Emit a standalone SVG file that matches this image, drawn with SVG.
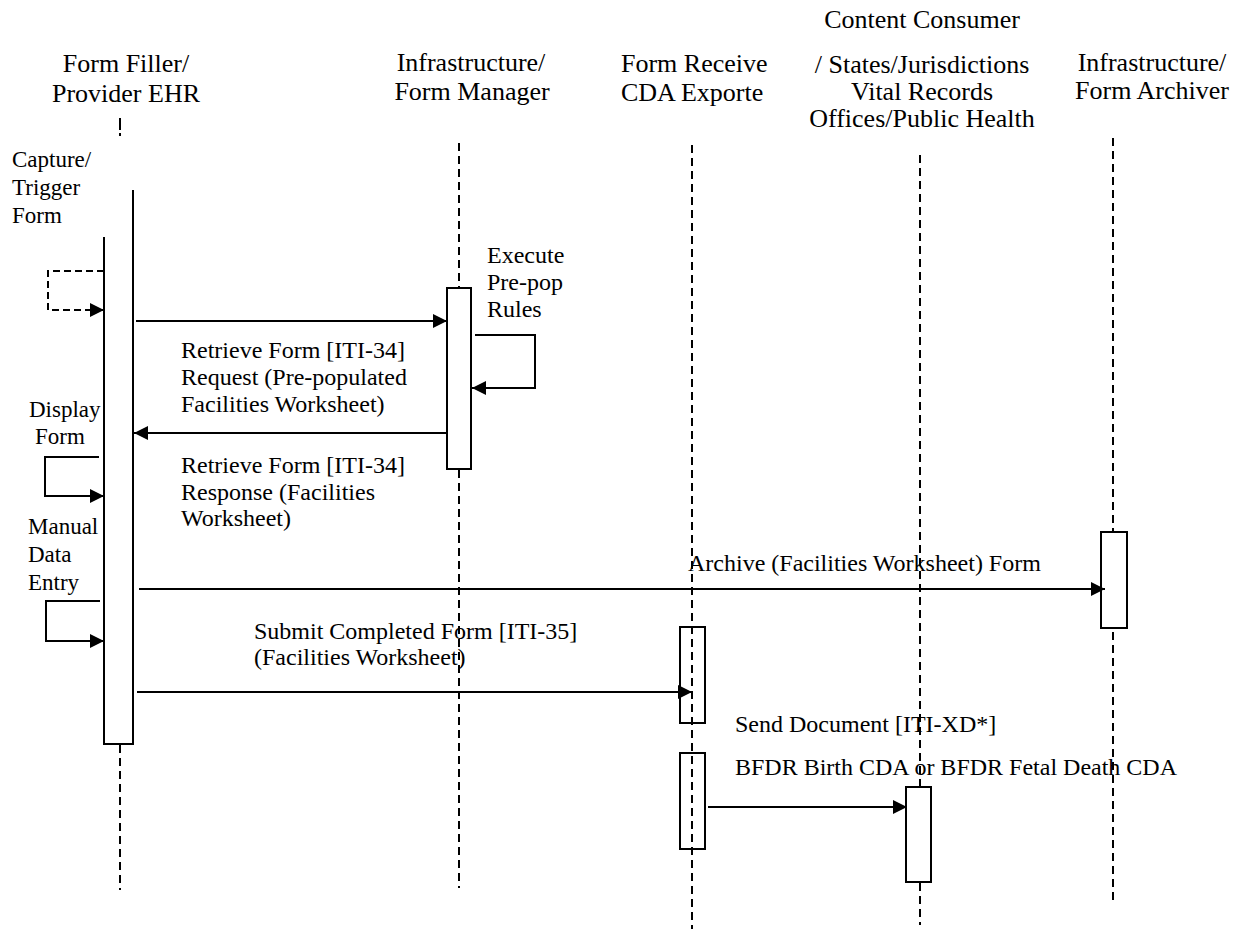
<svg xmlns="http://www.w3.org/2000/svg" width="1239" height="931" viewBox="0 0 1239 931" font-family="'Liberation Serif', 'Times New Roman', Times, Tinos, 'DejaVu Serif', serif">
<style>
text{font-family:'Liberation Serif','Times New Roman',Times,Tinos,'DejaVu Serif',serif;fill:#000}
.h{font-size:26px;text-anchor:middle}
.hl{font-size:26px}
.m{font-size:24px}
.s{font-size:23px}
.life{stroke:#000;stroke-width:2;stroke-dasharray:8 5;fill:none}
.act{stroke:#000;stroke-width:2;fill:#fff}
.actt{stroke:#000;stroke-width:2;fill:none}
.msg{stroke:#000;stroke-width:2;fill:none;marker-end:url(#ah)}
.dmsg{stroke:#000;stroke-width:2;fill:none;stroke-dasharray:7 4;marker-end:url(#ah)}
</style>
<defs>
<marker id="ah" markerUnits="userSpaceOnUse" markerWidth="15" markerHeight="16" refX="14" refY="7" orient="auto">
<path d="M0,0 L14,7 L0,14 z" fill="#000"/>
</marker>
</defs>
<rect width="1239" height="931" fill="#fff"/>

<g id="formFiller">
<text class="h" x="126" y="72">Form Filler/</text>
<text class="h" x="126" y="102">Provider EHR</text>
<line x1="120" y1="118" x2="120" y2="130" stroke="#000" stroke-width="2"/>
<line x1="120" y1="133" x2="120" y2="136" stroke="#000" stroke-width="2"/>
<line class="life" x1="120" y1="745" x2="120" y2="890"/>
<path d="M133,190 V744 H104 V237" stroke="#000" stroke-width="2" fill="none"/>
</g>

<g id="formManager">
<text class="h" x="471" y="71">Infrastructure/</text>
<text class="h" x="472" y="100">Form Manager</text>
<line class="life" x1="459" y1="143" x2="459" y2="288"/>
<line class="life" x1="459" y1="470" x2="459" y2="888"/>
<rect class="act" x="447" y="288" width="24" height="181"/>
</g>

<g id="formReceiver">
<text class="hl" x="621" y="72">Form Receive</text>
<text class="hl" x="621" y="101">CDA Exporte</text>
<line class="life" x1="692" y1="145" x2="692" y2="929"/>
<rect class="actt" x="680" y="627" width="25" height="96"/>
<rect class="actt" x="680" y="753" width="25" height="96"/>
</g>

<g id="contentConsumer">
<text class="h" x="922" y="28">Content Consumer</text>
<text class="h" x="922" y="73">/ States/Jurisdictions</text>
<text class="h" x="922" y="100">Vital Records</text>
<text class="h" x="922" y="127">Offices/Public Health</text>
<line class="life" x1="920" y1="155" x2="920" y2="925"/>
<rect class="act" x="906" y="787" width="25" height="95"/>
</g>

<g id="formArchiver">
<text class="h" x="1152" y="71">Infrastructure/</text>
<text class="h" x="1152" y="99">Form Archiver</text>
<line class="life" x1="1113" y1="138" x2="1113" y2="900"/>
<rect class="act" x="1101" y="532" width="26" height="96"/>
</g>

<g id="connectors">
<path class="dmsg" d="M104,271 H48 V310 H104"/>
<line class="msg" x1="136" y1="321" x2="447" y2="321"/>
<path class="msg" d="M475,335 H535 V388 H472"/>
<line class="msg" x1="447" y1="433" x2="134" y2="433"/>
<path class="msg" d="M99,457 H45 V496 H104"/>
<path class="msg" d="M100,601 H46 V641 H104"/>
<line class="msg" x1="139" y1="589" x2="1105" y2="589"/>
<line class="msg" x1="137" y1="692" x2="692" y2="692"/>
<line class="msg" x1="708" y1="807" x2="907" y2="807"/>
</g>

<g id="labels">
<text class="s" x="12" y="167">Capture/</text>
<text class="s" x="12" y="195">Trigger</text>
<text class="s" x="12" y="223">Form</text>
<text class="m" x="487" y="263">Execute</text>
<text class="m" x="487" y="290">Pre-pop</text>
<text class="m" x="487" y="317">Rules</text>
<text class="m" x="181" y="358">Retrieve Form [ITI-34]</text>
<text class="m" x="181" y="385">Request (Pre-populated</text>
<text class="m" x="181" y="412">Facilities Worksheet)</text>
<text class="s" x="29" y="417">Display</text>
<text class="s" x="35" y="444">Form</text>
<text class="m" x="181" y="473">Retrieve Form [ITI-34]</text>
<text class="m" x="181" y="500">Response (Facilities</text>
<text class="m" x="181" y="526">Worksheet)</text>
<text class="s" x="28" y="534">Manual</text>
<text class="s" x="28" y="562">Data</text>
<text class="s" x="28" y="590">Entry</text>
<text class="m" x="688" y="571">Archive (Facilities Worksheet) Form</text>
<text class="m" x="254" y="639">Submit Completed Form [ITI-35]</text>
<text class="m" x="254" y="665">(Facilities Worksheet)</text>
<text class="m" x="735" y="732">Send Document [ITI-XD*]</text>
<text class="m" x="735" y="775">BFDR Birth CDA or BFDR Fetal Death CDA</text>
</g>
</svg>
